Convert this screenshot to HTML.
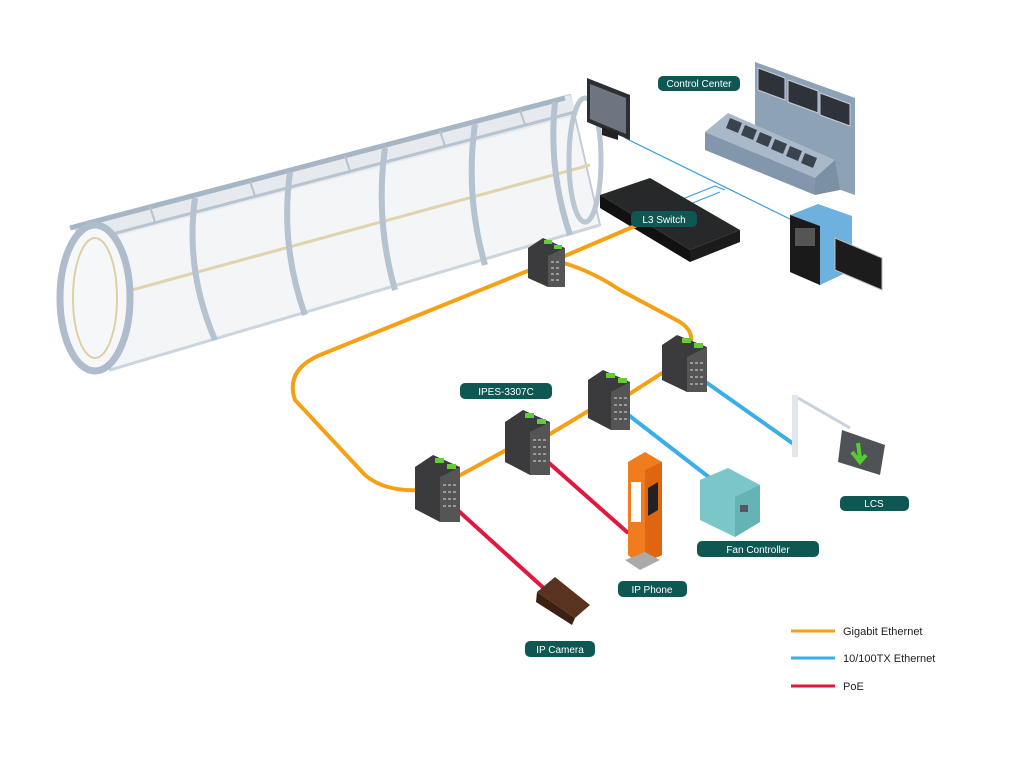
<!DOCTYPE html>
<html><head><meta charset="utf-8"><style>
html,body{margin:0;padding:0;background:#fff;}
svg{display:block;font-family:"Liberation Sans",sans-serif;}
.lb{fill:#0f5752;}
.lt{fill:#fff;font-size:10px;text-anchor:middle;}
</style></head><body>
<svg width="1030" height="768" viewBox="0 0 1030 768">
<!-- tunnel -->
<g>
<polygon points="75,225 570,95 600,225 110,370" fill="#f3f5f7" stroke="#c3ccd6" stroke-width="2"/>
<polygon points="75,225 570,95 578,115 82,245" fill="#e6eaef"/>
<path d="M70,228 L565,98" stroke="#a7b6c5" stroke-width="5" fill="none"/>
<path d="M82,242 L575,112" stroke="#b7c3cf" stroke-width="3" fill="none"/>
<g stroke="#b7c3cf" stroke-width="2"><path d="M150,207 L155,222"/><path d="M250,181 L255,196"/><path d="M345,156 L350,171"/><path d="M440,131 L445,146"/><path d="M520,110 L525,125"/></g>
<path d="M110,370 L600,225" stroke="#ccd5de" stroke-width="3" fill="none"/>
<path d="M95,300 L590,165" stroke="#e0d3ad" stroke-width="3" fill="none"/>
<ellipse cx="95" cy="298" rx="35" ry="73" fill="#f6f7f9" stroke="#aebccb" stroke-width="7"/>
<ellipse cx="95" cy="298" rx="22" ry="60" fill="none" stroke="#ddd0a5" stroke-width="2"/>
<g fill="none" stroke="#b5c2cf" stroke-width="6">
<path d="M195,198 Q185,270 215,340"/>
<path d="M290,172 Q280,245 305,315"/>
<path d="M385,148 Q375,220 395,290"/>
<path d="M475,124 Q465,195 485,265"/>
<path d="M555,102 Q548,170 570,235"/>
</g>
<ellipse cx="585" cy="160" rx="16" ry="62" fill="none" stroke="#bac6d2" stroke-width="5"/>
</g>
<!-- thin blue lines -->
<g stroke="#3aa0dc" stroke-width="1.2" fill="none">
<path d="M625,138 L800,224"/>
<path d="M680,200 L715,186 L725,190"/>
<path d="M690,204 L720,192"/>
</g>
<!-- monitor -->
<polygon points="587,78 630,95 630,140 587,122" fill="#2b2e33"/>
<polygon points="590,84 626,98 626,134 590,119" fill="#6d7680"/>
<polygon points="602,127 618,132 618,140 602,135" fill="#222"/>
<!-- control center -->
<polygon points="755,62 855,98 855,195 755,160" fill="#8ea2b6"/>
<g fill="#2d3338" stroke="#ccd" stroke-width="1">
<polygon points="758,68 785,78 785,100 758,90"/>
<polygon points="788,80 818,91 818,113 788,102"/>
<polygon points="820,93 850,104 850,126 820,115"/>
</g>
<polygon points="705,132 728,113 835,160 815,178" fill="#a9b9c9"/>
<polygon points="705,132 815,178 815,195 705,150" fill="#8297ac"/>
<polygon points="815,178 835,160 840,190 815,195" fill="#7c90a5"/>
<g fill="#3a434c">
<polygon points="730,118 742,123 738,133 726,128"/>
<polygon points="745,125 757,130 753,140 741,135"/>
<polygon points="760,132 772,137 768,147 756,142"/>
<polygon points="775,139 787,144 783,154 771,149"/>
<polygon points="790,146 802,151 798,161 786,156"/>
<polygon points="805,153 817,158 813,168 801,163"/>
</g>
<!-- L3 switch -->
<polygon points="600,195 650,178 740,230 690,250" fill="#262829"/>
<polygon points="600,195 690,250 690,262 600,208" fill="#111"/>
<polygon points="690,250 740,230 740,242 690,262" fill="#1b1b1b"/>
<!-- server + monitor -->
<polygon points="790,215 818,204 852,216 852,270 820,285 790,272" fill="#6fb1de"/>
<polygon points="790,215 820,226 820,285 790,272" fill="#1a1a1a"/>
<rect x="795" y="228" width="20" height="18" fill="#555"/>
<polygon points="835,238 882,258 882,290 835,270" fill="#1c1c1c" stroke="#bbb"/>
<!-- cables orange -->
<g fill="none" stroke="#f5a015" stroke-width="4" stroke-linecap="round">
<path d="M635,226 L560,258"/>
<path d="M560,262 Q590,270 620,290 L680,322 Q695,332 690,345"/>
<path d="M530,270 L320,355 Q285,370 295,400 L365,475 Q385,492 420,490"/>
<path d="M455,478 L510,448"/>
<path d="M540,440 L590,410"/>
<path d="M620,400 L670,368"/>
</g>
<!-- blue -->
<g fill="none" stroke="#3aaee8" stroke-width="4" stroke-linecap="round">
<path d="M700,378 L795,445"/>
<path d="M622,410 L710,478"/>
</g>
<!-- red -->
<g fill="none" stroke="#e2173f" stroke-width="4" stroke-linecap="round">
<path d="M452,505 L548,592"/>
<path d="M540,455 L627,532"/>
</g>
<!-- industrial switches -->
<g>
<g transform="translate(528,238)"><polygon points="0,10 15,0 37,10 37,49 20,49 0,40" fill="#3b3b3d"/><polygon points="20,18 37,10 37,49 20,49" fill="#555"/><rect x="16" y="2" width="8" height="4" fill="#6c3"/><rect x="26" y="7" width="8" height="4" fill="#6c3"/><path d="M23,24 h10 M23,30 h10 M23,36 h10 M23,42 h10" stroke="#999" stroke-width="2" stroke-dasharray="3 2"/></g>
<g transform="translate(662,335)"><polygon points="0,10 15,0 45,12 45,57 25,57 0,45" fill="#3b3b3d"/><polygon points="25,22 45,12 45,57 25,57" fill="#555"/><rect x="20" y="3" width="9" height="5" fill="#6c3"/><rect x="32" y="8" width="9" height="5" fill="#6c3"/><path d="M28,28 h14 M28,35 h14 M28,42 h14 M28,49 h14" stroke="#999" stroke-width="2" stroke-dasharray="3 2"/></g>
<g transform="translate(588,370)"><polygon points="0,10 15,0 42,12 42,60 23,60 0,48" fill="#3b3b3d"/><polygon points="23,22 42,12 42,60 23,60" fill="#555"/><rect x="18" y="3" width="9" height="5" fill="#6c3"/><rect x="30" y="8" width="9" height="5" fill="#6c3"/><path d="M26,28 h13 M26,35 h13 M26,42 h13 M26,49 h13" stroke="#999" stroke-width="2" stroke-dasharray="3 2"/></g>
<g transform="translate(505,410)"><polygon points="0,12 18,0 45,12 45,65 25,65 0,52" fill="#3b3b3d"/><polygon points="25,22 45,12 45,65 25,65" fill="#555"/><rect x="20" y="3" width="9" height="5" fill="#6c3"/><rect x="32" y="9" width="9" height="5" fill="#6c3"/><path d="M28,30 h14 M28,37 h14 M28,44 h14 M28,51 h14" stroke="#999" stroke-width="2" stroke-dasharray="3 2"/></g>
<g transform="translate(415,455)"><polygon points="0,12 18,0 45,12 45,67 25,67 0,54" fill="#3b3b3d"/><polygon points="25,22 45,12 45,67 25,67" fill="#555"/><rect x="20" y="3" width="9" height="5" fill="#6c3"/><rect x="32" y="9" width="9" height="5" fill="#6c3"/><path d="M28,30 h14 M28,37 h14 M28,44 h14 M28,51 h14" stroke="#999" stroke-width="2" stroke-dasharray="3 2"/></g>
</g>
<!-- phone -->
<polygon points="628,462 645,452 662,462 662,555 640,565 628,555" fill="#f07c1e"/>
<polygon points="645,470 662,462 662,555 645,562" fill="#e06510"/>
<rect x="631" y="482" width="10" height="40" fill="#fff"/>
<polygon points="648,488 658,482 658,510 648,516" fill="#222"/>
<polygon points="625,560 640,570 660,560 645,552" fill="#aaa"/>
<!-- camera -->
<polygon points="537,592 555,577 590,605 575,618" fill="#5a3220"/>
<polygon points="537,592 575,618 572,625 536,602" fill="#3c2013"/>
<!-- fan controller -->
<polygon points="700,480 728,468 760,485 760,522 735,537 700,520" fill="#7ac6c8"/>
<polygon points="735,497 760,485 760,522 735,537" fill="#66b3b6"/>
<rect x="740" y="505" width="8" height="7" fill="#556"/>
<!-- LCS gantry -->
<rect x="792" y="395" width="6" height="62" fill="#dfe6ec"/>
<path d="M798,398 L850,428" stroke="#c9d2da" stroke-width="3"/>
<polygon points="842,430 885,445 880,475 838,462" fill="#505356"/>
<path d="M858,443 L860,458 M852,452 L860,462 L866,455" stroke="#5c3" stroke-width="4" fill="none"/>
<!-- labels -->
<rect class="lb" x="658" y="76" width="82" height="15" rx="5"/><text class="lt" x="699" y="87">Control Center</text>
<rect class="lb" x="631" y="211" width="66" height="16" rx="5"/><text class="lt" x="664" y="223">L3 Switch</text>
<rect class="lb" x="460" y="383" width="92" height="16" rx="5"/><text class="lt" x="506" y="395">IPES-3307C</text>
<rect class="lb" x="840" y="496" width="69" height="15" rx="5"/><text class="lt" x="874" y="507">LCS</text>
<rect class="lb" x="697" y="541" width="122" height="16" rx="5"/><text class="lt" x="758" y="553">Fan Controller</text>
<rect class="lb" x="618" y="581" width="69" height="16" rx="5"/><text class="lt" x="652" y="593">IP Phone</text>
<rect class="lb" x="525" y="641" width="70" height="16" rx="5"/><text class="lt" x="560" y="653">IP Camera</text>
<!-- legend -->
<path d="M791,631 L835,631" stroke="#f5a015" stroke-width="3"/>
<path d="M791,658 L835,658" stroke="#3aaee8" stroke-width="3"/>
<path d="M791,686 L835,686" stroke="#e2173f" stroke-width="3"/>
<g font-size="11" fill="#222"><text x="843" y="635">Gigabit Ethernet</text><text x="843" y="662">10/100TX Ethernet</text><text x="843" y="690">PoE</text></g>
</svg>
</body></html>
